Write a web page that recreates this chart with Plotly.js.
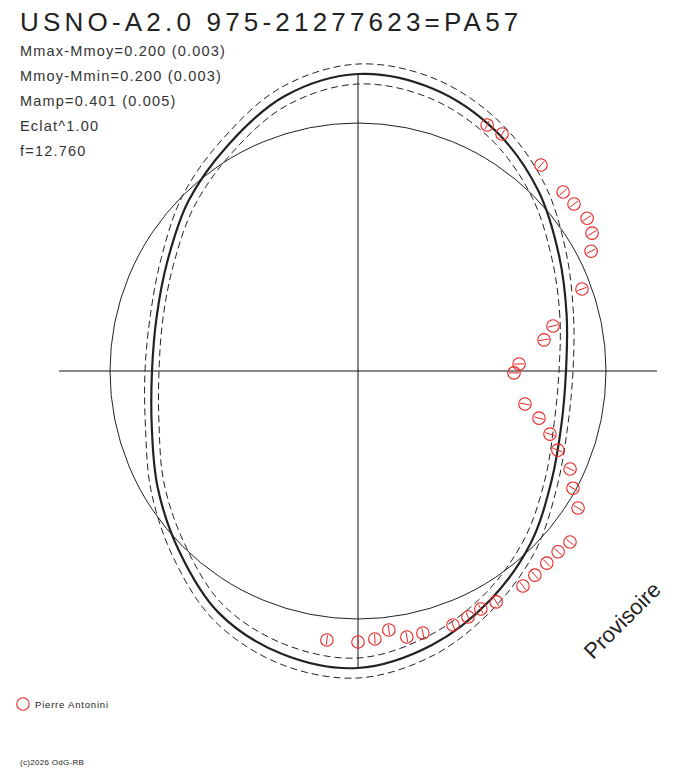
<!DOCTYPE html>
<html>
<head>
<meta charset="utf-8">
<script src="https://cdn.plot.ly/plotly-3.0.1.min.js"></script>
<style>html,body{margin:0;padding:0;background:#fff;}#chart{width:688px;height:768px;}</style>
</head>
<body>
<div id="chart"></div>
<script>
// Fitted light curve (phase angle in degrees, radius in plot units)
const curveTheta = [0,15,30,45,60,75,90,105,120,135,150,165,180,195,210,225,240,255,270,285,300,315,330,345,360];
const curveR     = [208,216,232,255,276.5,292,297,284.5,260.5,240,220,208.5,206,213.5,231.5,253.5,279,293,297,284,264.5,244,223,210.5,208];
const outerR     = [215,223,240,264,286,302,307,294,269,248,227,215,213,220,239,262,288,303,307,294,273,252,230,217,215];
const innerR     = [201,209,224,246,267,282,287,275,252,232,213,202,199,206,224,245,270,283,287,274,256,236,216,203,201];

// Observations (Pierre Antonini)
const obsTheta = [62.3,58.7,48.4,41.1,37.7,33.7,30.5,27.2,20.1,13.0,9.5,2.5,359.3,348.8,345.4,341.8,338.4,335.2,331.4,328.1,321.1,317.9,314.5,310.9,307.5,300.9,297.3,294.1,290.5,283.9,280.4,276.8,273.6,270.0,263.4];
const obsR     = [277.8,277.3,275.5,272.2,273.0,275.4,271.7,262.1,238.5,200.1,188.6,161.2,156.0,170.2,187.0,202.1,215.0,233.6,244.8,259.2,272.4,269.7,269.4,270.1,271.0,269.1,267.9,269.5,271.2,269.9,270.5,260.8,268.5,271.0,270.8];

// Reference circle (mean magnitude) and axis cross half-lengths
const meanCircleR = 248;
const hAxisHalf = 299;
const vAxisHalf = 297;
const radialMax = 312;

const titleText = 'USNO-A2.0 975-21277623=PA57';
const statLines = ['Mmax-Mmoy=0.200 (0.003)','Mmoy-Mmin=0.200 (0.003)','Mamp=0.401 (0.005)','Eclat^1.00','f=12.760'];
const observer = 'Pierre Antonini';
const watermark = 'Provisoire';
const copyright = '(c)2026 OdG-RB';

const red = 'rgb(232,36,36)';
const ink = '#222';
const FONT = 'Liberation Sans, Arial, sans-serif';

const traces = [
  {type:'scatterpolar', theta:[0,180,null,90,270], r:[hAxisHalf,hAxisHalf,null,vAxisHalf,vAxisHalf], mode:'lines',
   cliponaxis:false, line:{color:'#111', width:1}, showlegend:false, hoverinfo:'skip', connectgaps:false},
  {type:'scatterpolar', theta: curveTheta, r: outerR, mode:'lines', cliponaxis:false,
   line:{color:ink, width:1, dash:'7px,4px', shape:'spline'}, showlegend:false, hoverinfo:'skip'},
  {type:'scatterpolar', theta: curveTheta, r: innerR, mode:'lines', cliponaxis:false,
   line:{color:ink, width:1, dash:'7px,4px', shape:'spline'}, showlegend:false, hoverinfo:'skip'},
  {type:'scatterpolar', theta: curveTheta, r: curveR, mode:'lines', cliponaxis:false,
   line:{color:ink, width:2.2, shape:'spline'}, showlegend:false, hoverinfo:'skip'},
  {type:'scatterpolar', theta: obsTheta, r: obsR, mode:'markers', cliponaxis:false, name: observer,
   marker:{symbol:'circle-open', size:12.5, color:red, line:{color:red, width:1.1}}, showlegend:true},
  {type:'scatterpolar', theta: obsTheta, r: obsR, mode:'markers', cliponaxis:false,
   marker:{symbol:'line-ns-open', size:7, color:red, angle: obsTheta.map(t => 90 - t), line:{color:red, width:1}},
   showlegend:false, hoverinfo:'skip'}
];

const annotations = [
  {text:titleText, xref:'paper', yref:'paper', x:18/688, y:1-22/768, xanchor:'left', yanchor:'middle', align:'left',
   showarrow:false, font:{family:FONT, size:26, color:ink}},
  {text:watermark, xref:'paper', yref:'paper', x:622/688, y:1-620/768, xanchor:'center', yanchor:'middle', showarrow:false,
   textangle:-45, font:{family:FONT, size:22, color:ink}},
  {text:copyright, xref:'paper', yref:'paper', x:18/688, y:1-762/768, xanchor:'left', yanchor:'middle', align:'left',
   showarrow:false, font:{family:FONT, size:8, color:ink}}
];
statLines.forEach((s, i) => {
  annotations.push({text:s, xref:'paper', yref:'paper', x:18/688, y:1-(51+25*i)/768, xanchor:'left', yanchor:'middle',
    align:'left', showarrow:false, font:{family:FONT, size:14.5, color:'#333'}});
});

const layout = {
  width:688, height:768,
  margin:{l:0, r:0, t:0, b:0},
  paper_bgcolor:'#fff',
  showlegend:true,
  legend:{x:3/688, y:1-704/768, xanchor:'left', yanchor:'middle', bgcolor:'rgba(0,0,0,0)',
    font:{family:FONT, size:9.5, color:ink}, itemwidth:30},
  polar:{
    domain:{x:[(358-radialMax)/688, (358+radialMax)/688], y:[(397-radialMax)/768, (397+radialMax)/768]},
    bgcolor:'#fff',
    angularaxis:{showgrid:false, showline:false, showticklabels:false, ticks:'', rotation:0, direction:'counterclockwise'},
    radialaxis:{range:[0, radialMax], tickvals:[meanCircleR], showgrid:true, gridcolor:ink, gridwidth:1,
      showline:false, showticklabels:false, ticks:''}
  },
  annotations: annotations
};

Plotly.newPlot('chart', traces, layout, {staticPlot:true}).then(gd => {
  // letter spacing to mimic the original's wide text rendering
  gd.querySelectorAll('.annotation-text').forEach(t => {
    const s = t.textContent;
    if (s === titleText) t.setAttribute('letter-spacing', '4.2px');
    else if (statLines.indexOf(s) >= 0) t.setAttribute('letter-spacing', '1.2px');
    else if (s === copyright) t.setAttribute('letter-spacing', '0.3px');
  });
  gd.querySelectorAll('.legendtext').forEach(t => {
    t.setAttribute('letter-spacing', '0.8px');
    t.setAttribute('x', '32');
  });
});
</script>
</body>
</html>
